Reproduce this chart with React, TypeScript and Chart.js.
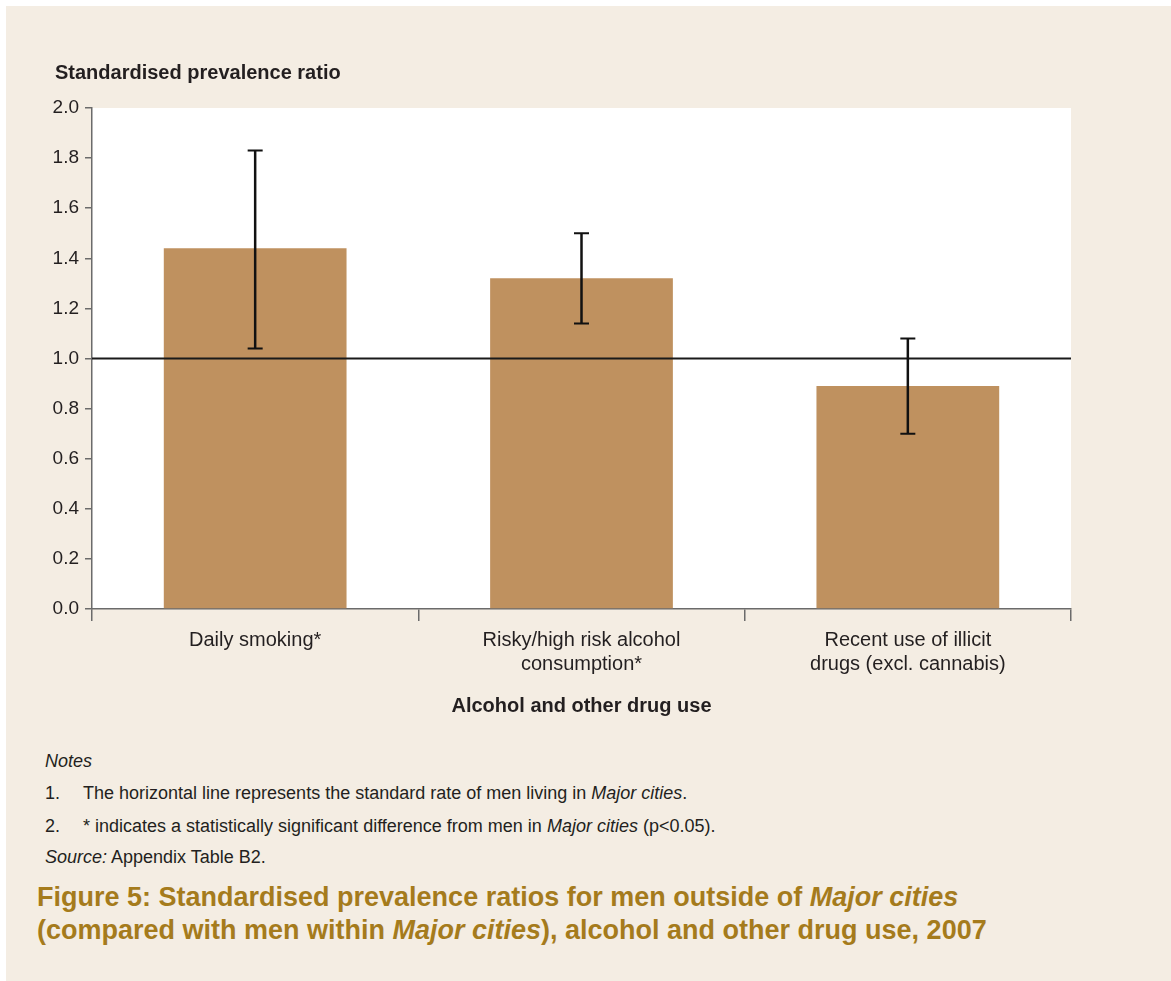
import React, { useEffect, useRef } from "react";
import { Chart, registerables } from "chart.js";

Chart.register(...registerables);

// Alcohol and other drug use categories (multi-line tick labels)
const categories: string[][] = [
  ["Daily smoking*"],
  ["Risky/high risk alcohol", "consumption*"],
  ["Recent use of illicit", "drugs (excl. cannabis)"],
];

// Standardised prevalence ratios with 95% confidence limits
const ratios: number[] = [1.44, 1.32, 0.89];
const lowerCI: number[] = [1.04, 1.14, 0.7];
const upperCI: number[] = [1.83, 1.5, 1.08];

// Reference rate for men living in Major cities
const referenceRatio = 1.0;

const yTicks = { min: 0, max: 2, step: 0.2 };

const FONT = "'Liberation Sans', Arial, Helvetica, sans-serif";
const AXIS_GREY = "#6b6b6b";
const TEXT = "#231f20";
const BAR = "#bf915f";
const PANEL = "#f4ede3";
const GOLD = "#a57b1c";

const plotDecorations = {
  id: "plotDecorations",
  beforeDraw(chart: any) {
    const { ctx, chartArea } = chart;
    ctx.save();
    ctx.fillStyle = "#ffffff";
    ctx.fillRect(
      chartArea.left,
      chartArea.top,
      chartArea.right - chartArea.left,
      chartArea.bottom - chartArea.top
    );
    ctx.restore();
  },
  afterDatasetsDraw(chart: any) {
    const { ctx, chartArea, scales } = chart;
    const y = scales.y;
    const meta = chart.getDatasetMeta(0);

    // reference line at ratio 1.0
    const yRef = y.getPixelForValue(referenceRatio);
    ctx.save();
    ctx.strokeStyle = "#1a1a1a";
    ctx.lineWidth = 2;
    ctx.beginPath();
    ctx.moveTo(chartArea.left, yRef);
    ctx.lineTo(chartArea.right, yRef);
    ctx.stroke();

    // confidence interval whiskers
    ctx.strokeStyle = "#111111";
    meta.data.forEach((bar: any, i: number) => {
      const x = bar.x;
      const yTop = y.getPixelForValue(upperCI[i]);
      const yBot = y.getPixelForValue(lowerCI[i]);
      const half = 7.5;
      ctx.lineWidth = 2.5;
      ctx.beginPath();
      ctx.moveTo(x, yTop);
      ctx.lineTo(x, yBot);
      ctx.stroke();
      ctx.lineWidth = 2;
      ctx.beginPath();
      ctx.moveTo(x - half, yTop);
      ctx.lineTo(x + half, yTop);
      ctx.moveTo(x - half, yBot);
      ctx.lineTo(x + half, yBot);
      ctx.stroke();
    });
    ctx.restore();
  },
};

function BarChart() {
  const canvasRef = useRef<HTMLCanvasElement | null>(null);

  useEffect(() => {
    if (!canvasRef.current) return;
    const chart = new Chart(canvasRef.current, {
      type: "bar",
      data: {
        labels: categories,
        datasets: [
          {
            data: ratios,
            backgroundColor: BAR,
            borderWidth: 0,
            categoryPercentage: 0.8,
            barPercentage: 0.7,
          },
        ],
      },
      options: {
        animation: false,
        responsive: false,
        maintainAspectRatio: false,
        events: [],
        layout: { padding: { left: 0, top: 108, right: 100, bottom: 0 } },
        plugins: {
          legend: { display: false },
          tooltip: { enabled: false },
          title: { display: false },
        },
        scales: {
          x: {
            afterFit: (scale: any) => {
              scale.height = 121;
            },
            border: { color: AXIS_GREY, width: 1.5 },
            grid: {
              offset: true,
              drawOnChartArea: false,
              drawTicks: true,
              tickLength: 12,
              color: AXIS_GREY,
              lineWidth: 1.5,
            },
            ticks: {
              color: TEXT,
              padding: 7,
              maxRotation: 0,
              autoSkip: false,
              font: { family: FONT, size: 20, lineHeight: 1.2 },
            },
            title: {
              display: true,
              text: "Alcohol and other drug use",
              color: TEXT,
              padding: { top: 4, bottom: 12 },
              font: { family: FONT, size: 20, weight: "bold", lineHeight: 1.2 },
            },
          },
          y: {
            min: yTicks.min,
            max: yTicks.max,
            afterFit: (scale: any) => {
              scale.width = 92;
            },
            border: { color: AXIS_GREY, width: 1.5 },
            grid: {
              drawOnChartArea: false,
              drawTicks: true,
              tickLength: 7,
              color: AXIS_GREY,
              lineWidth: 1.5,
            },
            ticks: {
              stepSize: yTicks.step,
              color: TEXT,
              padding: 6,
              font: { family: FONT, size: 19 },
              callback: (v: any) => Number(v).toFixed(1),
            },
          },
        },
      },
      plugins: [plotDecorations],
    });
    return () => chart.destroy();
  }, []);

  return (
    <canvas
      ref={canvasRef}
      width={1171}
      height={730}
      style={{ position: "absolute", left: 0, top: 0, width: 1171, height: 730 }}
    />
  );
}

const line = (top: number, lh: number): React.CSSProperties => ({
  position: "absolute",
  top: top - lh / 2,
  lineHeight: `${lh}px`,
  whiteSpace: "nowrap",
});

export default function App() {
  return (
    <div
      style={{
        position: "absolute",
        left: 0,
        top: 0,
        width: 1171,
        height: 981,
        background: "#ffffff",
        fontFamily: FONT,
        color: TEXT,
        overflow: "hidden",
      }}
    >
      <div
        style={{
          position: "absolute",
          left: 6,
          top: 6,
          right: 0,
          bottom: 0,
          background: PANEL,
        }}
      />
      <BarChart />
      <div style={{ ...line(72, 24), left: 55, fontSize: 20, fontWeight: "bold" }}>
        Standardised prevalence ratio
      </div>

      <div style={{ ...line(761, 22), left: 45, fontSize: 18, fontStyle: "italic" }}>
        Notes
      </div>
      <div style={{ ...line(793, 22), left: 45, fontSize: 18 }}>1.</div>
      <div style={{ ...line(793, 22), left: 83, fontSize: 18 }}>
        The horizontal line represents the standard rate of men living in{" "}
        <i>Major cities</i>.
      </div>
      <div style={{ ...line(826, 22), left: 45, fontSize: 18 }}>2.</div>
      <div style={{ ...line(826, 22), left: 83, fontSize: 18 }}>
        * indicates a statistically significant difference from men in{" "}
        <i>Major cities</i> (p&lt;0.05).
      </div>
      <div style={{ ...line(857, 22), left: 45, fontSize: 18 }}>
        <i>Source:</i> Appendix Table B2.
      </div>

      <div
        style={{
          ...line(897, 33),
          left: 37,
          fontSize: 27,
          fontWeight: "bold",
          color: GOLD,
        }}
      >
        Figure 5: Standardised prevalence ratios for men outside of <i>Major cities</i>
      </div>
      <div
        style={{
          ...line(930, 33),
          left: 37,
          fontSize: 27,
          fontWeight: "bold",
          color: GOLD,
        }}
      >
        (compared with men within <i>Major cities</i>), alcohol and other drug use, 2007
      </div>
    </div>
  );
}
